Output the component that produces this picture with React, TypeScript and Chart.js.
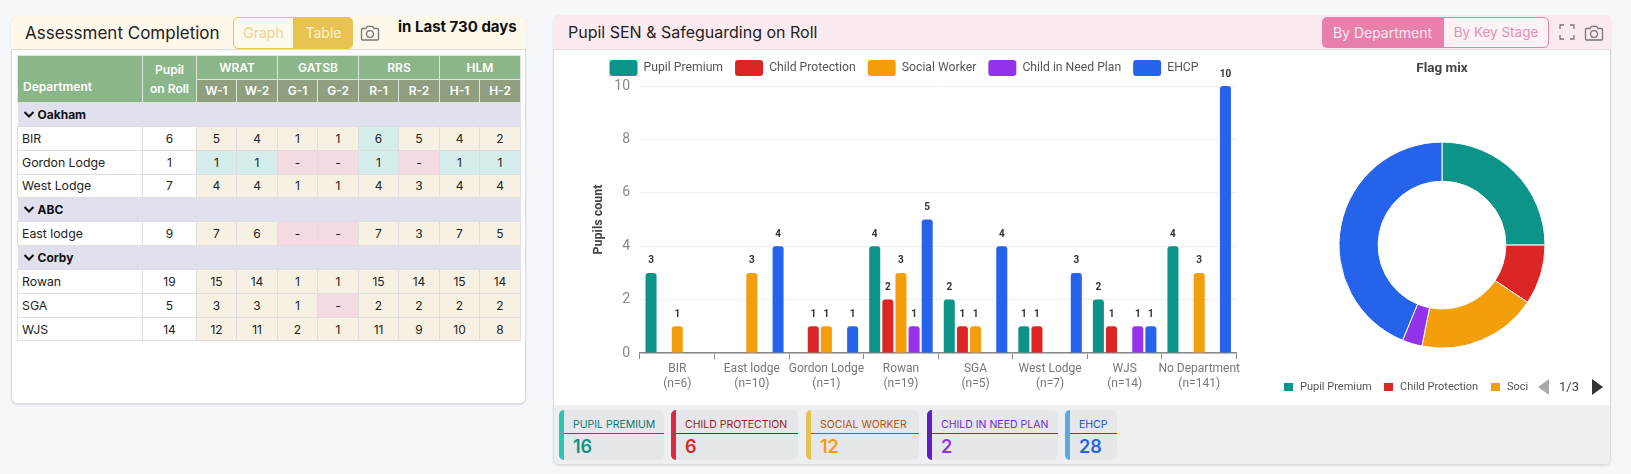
// App.tsx
import { useEffect, useRef } from "react";
import { Chart, registerables } from "chart.js";
Chart.register(...registerables);

// ── Data ──────────────────────────────────────────────────────────────────────

const DEPARTMENTS = ["BIR", "East lodge", "Gordon Lodge", "Rowan", "SGA", "West Lodge", "WJS", "No Department"];
const ON_ROLL = [6, 10, 1, 19, 5, 7, 14, 141];

const FLAGS = ["Pupil Premium", "Child Protection", "Social Worker", "Child in Need Plan", "EHCP"];
const PUPIL_PREMIUM = [3, 0, 0, 4, 2, 1, 2, 4];
const CHILD_PROTECTION = [0, 0, 1, 2, 1, 1, 1, 0];
const SOCIAL_WORKER = [1, 3, 1, 3, 1, 0, 0, 3];
const CHILD_IN_NEED = [0, 0, 0, 1, 0, 0, 1, 0];
const EHCP = [0, 4, 1, 5, 4, 3, 1, 10];
const FLAG_TOTALS = [16, 6, 12, 2, 28];

const Y_TICKS = [0, 2, 4, 6, 8, 10];

const GROUPS = ["WRAT", "GATSB", "RRS", "HLM"];
const SUB_HEADERS = ["W-1", "W-2", "G-1", "G-2", "R-1", "R-2", "H-1", "H-2"];

const OAKHAM = [
  ["BIR", "6", "5", "4", "1", "1", "6", "5", "4", "2"],
  ["Gordon Lodge", "1", "1", "1", "-", "-", "1", "-", "1", "1"],
  ["West Lodge", "7", "4", "4", "1", "1", "4", "3", "4", "4"],
];
const ABC = [["East lodge", "9", "7", "6", "-", "-", "7", "3", "7", "5"]];
const CORBY = [
  ["Rowan", "19", "15", "14", "1", "1", "15", "14", "15", "14"],
  ["SGA", "5", "3", "3", "1", "-", "2", "2", "2", "2"],
  ["WJS", "14", "12", "11", "2", "1", "11", "9", "10", "8"],
];

// ── Colours ───────────────────────────────────────────────────────────────────

const TEAL = "#0d9488";
const RED = "#dc2626";
const AMBER = "#f59e0b";
const PURPLE = "#9333ea";
const BLUE = "#2563eb";
const FLAG_COLORS = [TEAL, RED, AMBER, PURPLE, BLUE];

const TILE_BARS = ["#2cc5b2", "#dc2a45", "#e9c155", "#5d1fc8", "#5aa9e6"];
const TILE_LABELS = ["#0f766e", "#991b1b", "#b45309", "#6d28d9", "#1d4ed8"];
const TILE_VALUES = [TEAL, RED, AMBER, PURPLE, BLUE];

const UI_FONT = "Inter, 'Noto Sans', sans-serif";

const cols = [125, 54, 40, 41, 40, 41, 40, 41, 40, 41];

// ── Bar value labels ──────────────────────────────────────────────────────────

const valueLabels = {
  id: "valueLabels",
  afterDatasetsDraw(chart: Chart) {
    const { ctx } = chart;
    ctx.save();
    ctx.font = "bold 10px Roboto";
    ctx.fillStyle = "#333";
    ctx.textAlign = "center";
    ctx.textBaseline = "middle";
    chart.data.datasets.forEach((ds, i) => {
      chart.getDatasetMeta(i).data.forEach((bar: any, j) => {
        const v = ds.data[j] as number;
        if (v) ctx.fillText(String(v), bar.x, bar.y - 12);
      });
    });
    ctx.restore();
  },
};

// ── Charts ────────────────────────────────────────────────────────────────────

function FlagsBar() {
  const ref = useRef<HTMLCanvasElement>(null);
  useEffect(() => {
    if (!ref.current) return;
    const series = [PUPIL_PREMIUM, CHILD_PROTECTION, SOCIAL_WORKER, CHILD_IN_NEED, EHCP];
    const chart = new Chart(ref.current, {
      type: "bar",
      data: {
        labels: DEPARTMENTS.map((d, i) => [d, `(n=${ON_ROLL[i]})`]),
        datasets: series.map((data, i) => ({
          label: FLAGS[i],
          data,
          backgroundColor: FLAG_COLORS[i],
          borderRadius: 3,
          categoryPercentage: 0.88,
          barPercentage: 0.84,
        })),
      },
      options: {
        animation: false,
        responsive: false,
        plugins: {
          legend: {
            position: "top",
            labels: {
              boxWidth: 28,
              boxHeight: 16,
              padding: 12,
              useBorderRadius: true,
              borderRadius: 3,
              color: "#555",
              font: { family: "Roboto", size: 12.2 },
            },
          },
          tooltip: { enabled: false },
        },
        scales: {
          x: {
            afterFit: (s: any) => { s.height = 47; },
            grid: { drawOnChartArea: false, tickLength: 6, tickColor: "#888" },
            border: { color: "#888", width: 1.5 },
            ticks: {
              color: "#777",
              padding: 2,
              maxRotation: 0,
              autoSkip: false,
              font: { family: "Roboto", size: 12, lineHeight: 1.25 },
            },
          },
          y: {
            min: 0,
            max: Y_TICKS[Y_TICKS.length - 1],
            afterFit: (s: any) => { s.width = 74; },
            grid: { color: "#eeeeee", drawTicks: false },
            border: { display: false },
            ticks: {
              stepSize: Y_TICKS[1],
              color: "#888",
              padding: 10,
              font: { family: "Roboto", size: 14 },
            },
            title: {
              display: true,
              text: "Pupils count",
              color: "#444",
              padding: { top: 25, bottom: 0 },
              font: { family: "Roboto", size: 12.5, weight: "bold" },
            },
          },
        },
      },
      plugins: [valueLabels],
    });
    return () => chart.destroy();
  }, []);
  return <canvas ref={ref} width={676} height={352} style={{ position: "absolute", left: 566, top: 48 }} />;
}

function FlagsDoughnut() {
  const ref = useRef<HTMLCanvasElement>(null);
  useEffect(() => {
    if (!ref.current) return;
    const chart = new Chart(ref.current, {
      type: "doughnut",
      data: {
        labels: FLAGS,
        datasets: [{
          data: FLAG_TOTALS,
          backgroundColor: FLAG_COLORS,
          borderColor: "#fff",
          borderWidth: 1,
        }],
      },
      options: {
        animation: false,
        responsive: false,
        radius: 103,
        cutout: "62%",
        plugins: {
          legend: { display: false },
          tooltip: { enabled: false },
          title: {
            display: true,
            text: "Flag mix",
            color: "#444",
            padding: { top: 4, bottom: 8 },
            font: { family: "Roboto", size: 13.5, weight: "bold" },
          },
        },
      },
    });
    return () => chart.destroy();
  }, []);
  return <canvas ref={ref} width={340} height={348} style={{ position: "absolute", left: 1272, top: 57 }} />;
}

// ── Small bits ────────────────────────────────────────────────────────────────

function Camera({ x, y }: { x: number; y: number }) {
  return (
    <svg width="20" height="18" viewBox="0 0 20 18" style={{ position: "absolute", left: x, top: y }} fill="none" stroke="#777" strokeWidth="1.3">
      <path d="M2.5 4.5h3.5l1.3-2.2h5.4L14 4.500h3.500a1 1 0 0 1 1 1v9.500a1 1 0 0 1-1 1h-15a1 1 0 0 1-1-1V5.500a1 1 0 0 1 1-1z" />
      <circle cx="10" cy="10" r="3.400" />
    </svg>
  );
}

function abs(x: number, y: number, w: number, h: number, extra: React.CSSProperties = {}): React.CSSProperties {
  return { position: "absolute", left: x, top: y, width: w, height: h, boxSizing: "border-box", ...extra };
}

function cellBg(row: string[], i: number) {
  if (row[i] === "-") return "#f5dae1";
  if (row[i] === row[1]) return "#d6eeeb";
  return "#f6f1e3";
}

function Rows({ name, rows }: { name: string; rows: string[][] }) {
  return (
    <>
      <tr style={{ height: 23.85, background: "#e0e0ee" }}>
        <td colSpan={10} style={{ fontWeight: 700, color: "#111", padding: "0 0 0 5px" }}>
          <svg width="12" height="9" viewBox="0 0 12 9" style={{ marginRight: 3 }}>
            <path d="M1.500 2l4.500 4.500L10.500 2" fill="none" stroke="#111" strokeWidth="2" />
          </svg>
          {name}
        </td>
      </tr>
      {rows.map((row) => (
        <tr key={row[0]} style={{ height: 23.85 }}>
          {row.map((c, i) => (
            <td key={i} style={{
              textAlign: i === 0 ? "left" : "center",
              padding: i === 0 ? "0 0 0 4px" : 0,
              fontSize: i === 0 ? 12.3 : 12,
              background: i < 2 ? "#fff" : cellBg(row, i),
              border: "1px solid #dedede",
              color: "#222",
            }}>{c}</td>
          ))}
        </tr>
      ))}
    </>
  );
}

function AssessmentTable() {
  const head: React.CSSProperties = { background: "#8ab68a", color: "#fff", fontWeight: 600, border: "1px solid #d9e6d9", textAlign: "center", padding: 0 };
  const sub: React.CSSProperties = { ...head, background: "#8f9f7f" };
  return (
    <table style={{ position: "absolute", left: 17, top: 55, width: 503, tableLayout: "fixed", borderCollapse: "collapse", fontFamily: UI_FONT, fontSize: 12 }}>
      <colgroup>{cols.map((w, i) => <col key={i} style={{ width: w }} />)}</colgroup>
      <thead>
        <tr style={{ height: 23.5 }}>
          <th rowSpan={2} style={{ ...head, textAlign: "left", paddingLeft: 5, paddingTop: 14 }}>Department</th>
          <th rowSpan={2} style={{ ...head, lineHeight: "19px" }}>Pupil<br />on Roll</th>
          {GROUPS.map((g) => <th key={g} colSpan={2} style={head}>{g}</th>)}
        </tr>
        <tr style={{ height: 23.5 }}>
          {SUB_HEADERS.map((s) => <th key={s} style={sub}>{s}</th>)}
        </tr>
      </thead>
      <tbody>
        <Rows name="Oakham" rows={OAKHAM} />
        <Rows name="ABC" rows={ABC} />
        <Rows name="Corby" rows={CORBY} />
      </tbody>
    </table>
  );
}

function StatTiles() {
  const xs = [559, 671, 806, 927, 1065];
  const ws = [105, 127, 113, 131, 52];
  return (
    <>
      {FLAGS.map((f, i) => (
        <div key={f} style={abs(xs[i], 410, ws[i], 50, { background: "#e6e7eb", borderRadius: 6, fontFamily: UI_FONT })}>
          <div style={abs(0, 0, 5, 50, { background: TILE_BARS[i], borderRadius: "5px 0 0 5px" })} />
          <div style={abs(5, 8, ws[i] - 5, 13, { fontSize: 10.500, lineHeight: "13px", color: TILE_LABELS[i], paddingLeft: 9, whiteSpace: "nowrap" })}>{f.toUpperCase()}</div>
          <div style={abs(5, 23, ws[i] - 5, 1, { background: TILE_LABELS[i] })} />
          <div style={abs(14, 26, 40, 22, { fontSize: 18, lineHeight: "22px", fontWeight: 600, color: TILE_VALUES[i] })}>{FLAG_TOTALS[i]}</div>
        </div>
      ))}
    </>
  );
}

function DoughnutLegend() {
  const items = [
    { x: 1284, tx: 1300, w: 80 },
    { x: 1384, tx: 1400, w: 88 },
    { x: 1491, tx: 1507, w: 21 },
  ];
  return (
    <>
      {items.map((it, i) => (
        <div key={i}>
          <div style={abs(it.x, 383, 9, 8, { background: FLAG_COLORS[i] })} />
          <div style={abs(it.tx, 380, it.w, 14, { font: "11px/14px Roboto", color: "#555", overflow: "hidden", whiteSpace: "nowrap" })}>{FLAGS[i]}</div>
        </div>
      ))}
      <svg width="12" height="16" style={{ position: "absolute", left: 1538, top: 379 }}><path d="M11 0v16L0 8z" fill="#aaa" /></svg>
      <div style={abs(1559, 378, 24, 18, { font: "13px/18px Roboto", color: "#444" })}>1/3</div>
      <svg width="12" height="16" style={{ position: "absolute", left: 1591, top: 379 }}><path d="M1 0v16L12 8z" fill="#333" /></svg>
    </>
  );
}

// ── Page ──────────────────────────────────────────────────────────────────────

export default function App() {
  return (
    <div style={{ position: "relative", width: 1631, height: 474, background: "#f6f7fa", overflow: "hidden", fontFamily: UI_FONT }}>
      <style>{"body{margin:0}"}</style>

      {/* left card */}
      <div style={abs(11, 16, 515, 388, { background: "#fff", border: "1px solid #dcdcdc", borderRadius: 6, boxShadow: "0 1px 2px #0000001a" })} />
      <div style={abs(11, 16, 515, 34, { background: "#fdf8ea", borderBottom: "1px solid #ddd", borderRadius: "6px 6px 0 0" })} />
      <div style={abs(25, 22, 200, 22, { fontSize: 17, lineHeight: "22px", color: "#222", whiteSpace: "nowrap" })}>Assessment Completion</div>
      <div style={abs(233, 17, 61, 32, { border: "1px solid #e8c352", borderRadius: "5px 0 0 5px", background: "#fdf9ec", color: "#ecd38c", fontSize: 14, lineHeight: "30px", textAlign: "center" })}>Graph</div>
      <div style={abs(294, 17, 59, 32, { background: "#e8c352", borderRadius: "0 5px 5px 0", color: "#fbf3d8", fontSize: 14, lineHeight: "32px", textAlign: "center" })}>Table</div>
      <Camera x={360} y={24} />
      <div style={abs(398, 17, 124, 20, { fontSize: 15, fontWeight: 700, lineHeight: "20px", color: "#111", whiteSpace: "nowrap" })}>in Last 730 days</div>
      <AssessmentTable />

      {/* right card */}
      <div style={abs(553, 15, 1058, 450, { background: "#fff", border: "1px solid #dcdcdc", borderRadius: 6, boxShadow: "0 1px 2px #0000001a" })} />
      <div style={abs(553, 15, 1058, 35, { background: "#fbebf1", borderBottom: "1px solid #ddd", borderRadius: "6px 6px 0 0" })} />
      <div style={abs(568, 21, 300, 22, { fontSize: 16, lineHeight: "22px", color: "#222", whiteSpace: "nowrap" })}>Pupil SEN &amp; Safeguarding on Roll</div>
      <div style={abs(1322, 17, 121, 31, { background: "#e97fab", borderRadius: "5px 0 0 5px", color: "#fdeaf2", fontSize: 14, lineHeight: "31px", textAlign: "center" })}>By Department</div>
      <div style={abs(1443, 17, 106, 31, { background: "#fdf2f6", border: "1px solid #e97fab", borderRadius: "0 5px 5px 0", color: "#e58fb2", fontSize: 13.5, lineHeight: "29px", textAlign: "center" })}>By Key Stage</div>
      <svg width="16" height="16" viewBox="0 0 16 16" style={{ position: "absolute", left: 1559, top: 24 }} fill="none" stroke="#777" strokeWidth="1.300">
        <path d="M1 5V1h4M11 1h4v4M15 11v4h-4M5 15H1v-4" />
      </svg>
      <Camera x={1584} y={24} />

      <div style={abs(554, 405, 1056, 59, { background: "#eeeff1", borderRadius: "0 0 6px 6px" })} />
      <StatTiles />

      <FlagsBar />
      <FlagsDoughnut />
      <DoughnutLegend />
    </div>
  );
}
